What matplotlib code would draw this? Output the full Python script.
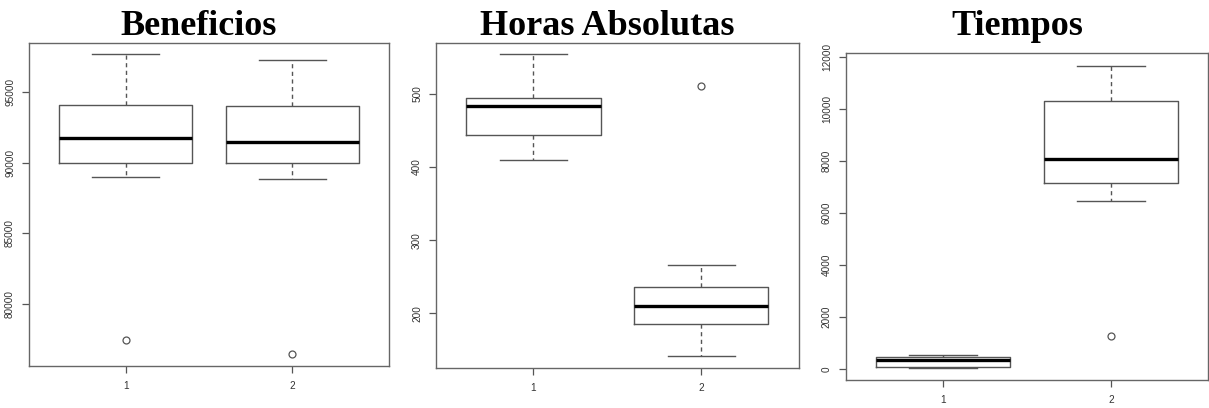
import matplotlib
matplotlib.use("Agg")
import matplotlib.pyplot as plt

titles = ["Beneficios", "Horas Absolutas", "Tiempos"]
group_labels = ["1", "2"]

# per panel: [whislo, q1, med, q3, whishi] for groups 1 and 2
benef_stats = [[89010, 89976, 91790, 94081, 97709], [88847, 89976, 91506, 94052, 97306]]
benef_fliers = [[77454], [76443]]
horas_stats = [[409, 444, 483.6, 494.5, 553.8], [141.7, 185.4, 210, 235.5, 266]]
horas_fliers = [[], [510.5]]
tiempos_stats = [[61, 100, 345, 483, 537], [6447, 7138, 8082, 10296, 11651]]
tiempos_fliers = [[], [1278]]

ylims = [(75615, 98487), (125.7, 569.7), (-410, 12130)]
yticks = [[80000, 85000, 90000, 95000], [200, 300, 400, 500],
          [0, 2000, 4000, 6000, 8000, 10000, 12000]]

all_stats = [benef_stats, horas_stats, tiempos_stats]
all_fliers = [benef_fliers, horas_fliers, tiempos_fliers]

W, H = 1209, 408
fig = plt.figure(figsize=(W / 100, H / 100), dpi=100)

# axes rectangles in pixels: left, top, right, bottom
rects = [(29, 43, 389, 366), (436, 42.7, 798.7, 367.7), (845.7, 53.3, 1208.3, 380)]
title_cx = [198.5, 607, 1017]

grey = "#555555"
for i in range(3):
    l, t, r, b = rects[i]
    ax = fig.add_axes([l / W, 1 - b / H, (r - l) / W, (b - t) / H])
    stats = []
    for j in range(2):
        lo, q1, med, q3, hi = all_stats[i][j]
        stats.append(dict(whislo=lo, q1=q1, med=med, q3=q3, whishi=hi,
                          fliers=all_fliers[i][j], label=group_labels[j]))
    ax.bxp(stats, positions=[1, 2], widths=0.8,
           boxprops=dict(color=grey, linewidth=1.0),
           whiskerprops=dict(color=grey, linewidth=1.0, linestyle=(0, (3, 2.5))),
           capprops=dict(color=grey, linewidth=1.0),
           capwidths=0.4,
           medianprops=dict(color="black", linewidth=2.4, solid_capstyle="butt"),
           flierprops=dict(marker="o", markersize=5, markerfacecolor="none",
                           markeredgecolor=grey, markeredgewidth=0.9))
    ax.set_xlim(0.42, 2.58)
    ax.set_ylim(*ylims[i])
    ax.set_yticks(yticks[i])
    ax.set_yticklabels([str(v) for v in yticks[i]], rotation=90, va="center",
                       family="Liberation Sans", fontsize=7.2, color="#333333")
    ax.set_xticks([1, 2])
    ax.set_xticklabels(group_labels, family="Liberation Sans", fontsize=7.2,
                       color="#333333")
    ax.tick_params(axis="both", length=5, width=0.9, color=grey)
    ax.tick_params(axis="y", pad=5)
    ax.tick_params(axis="x", pad=6)
    for s in ax.spines.values():
        s.set_color("#666666")
        s.set_linewidth(1.0)
    fig.text(title_cx[i] / W, 1 - 35 / H, titles[i], ha="center", va="baseline",
             family="Liberation Serif", fontweight="bold", fontsize=26)

fig.savefig("out.png", dpi=100)
